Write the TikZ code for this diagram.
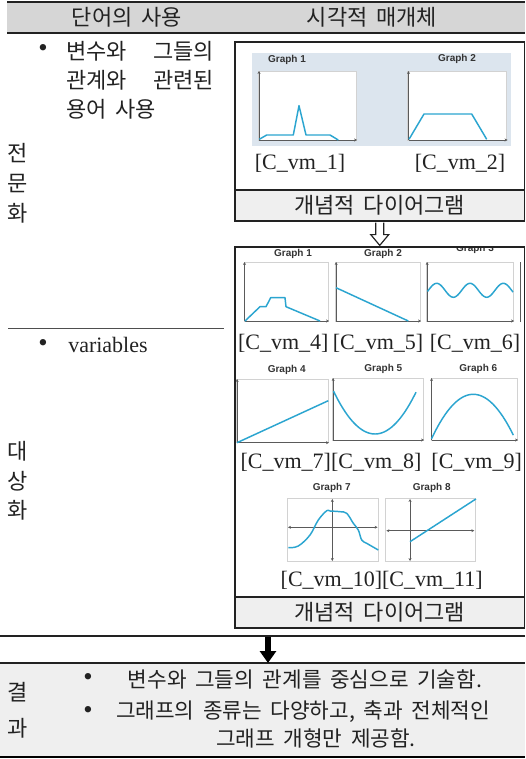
\documentclass[tikz,border=0pt]{standalone}
\usepackage{fontspec}
\setmainfont{Liberation Serif}
\newfontfamily\krfont[WordSpace=1.8]{Noto Sans CJK KR}
\newfontfamily\gfont{Liberation Sans}
\usetikzlibrary{arrows.meta,positioning,calc,fit}
\definecolor{ink}{HTML}{222222}
\definecolor{headgray}{HTML}{D6D6D6}
\definecolor{bandgray}{HTML}{EFEFEF}
\definecolor{plotbg}{HTML}{DCE5EE}
\definecolor{cyanline}{HTML}{2BA5D0}
\definecolor{framegray}{HTML}{D2D2D2}
\definecolor{axisgray}{HTML}{5A5A5A}

\begin{document}
\begin{tikzpicture}[x=0.75pt,y=-0.75pt,
  kr/.style={font=\krfont\fontsize{16.5}{22.5}\selectfont,text=ink,inner sep=0pt},
  res/.style={kr,font=\krfont\fontsize{16}{20}\selectfont},
  vm/.style={font=\fontsize{16.5}{18}\selectfont,text=ink,inner sep=0pt},
  bul/.style={font=\fontsize{20}{20}\selectfont,text=ink,inner sep=0pt},
  gtitle/.style={font=\gfont\bfseries\fontsize{7.5}{8}\selectfont,text=black!80,inner sep=0pt},
  plotframe/.style={draw=framegray,fill=white,line width=0.5pt},
  plotaxis/.style={draw=axisgray,line width=0.6pt,-{Stealth[length=2.2pt,width=2.2pt]}},
  plotaxisb/.style={plotaxis,{Stealth[length=2.2pt,width=2.2pt]}-{Stealth[length=2.2pt,width=2.2pt]}},
  plotline/.style={draw=cyanline,line width=1.1pt,line join=round},
  panel/.style={draw=ink,line width=0.9pt,inner sep=0pt},
  band/.style={panel,fill=bandgray}]
  \useasboundingbox (0,0) rectangle (525,759);

  \fill[headgray] (7,2) rectangle (525,33);
  \draw[ink,line width=1.5pt] (7,2) -- (525,2);
  \draw[ink,line width=0.9pt] (7,33) -- (525,33);
  \node[kr] (hword) at (127,17) {단어의 사용};
  \node[kr] (hmedia) at (372,17) {시각적 매개체};

  \node[bul] (b1) at (43,51) {•};
  \node[kr,anchor=west] (w1) at (66,51) {변수와};
  \node[kr,anchor=east] (w2) at (214,51) {그들의};
  \node[kr,anchor=west] (w3) at (66,80) {관계와};
  \node[kr,anchor=east] (w4) at (214,80) {관련된};
  \node[kr,anchor=west] (w5) at (66,109) {용어 사용};
  \node[kr,align=center] (jmh) at (18,183) {전\\문\\화};
  \draw[ink!80,line width=0.7pt] (8,328) -- (224,328);
  \node[bul] (b2) at (43,345) {•};
  \node[vm,anchor=west] (var) at (68,345) {variables};
  \node[kr,align=center,font=\krfont\fontsize{16.5}{22}\selectfont] (dsh) at (18,481) {대\\상\\화};

  \node[panel,fit={(235,42) (524.5,221)}] (box1) {};
  \node[band,fit={(235,190) (524.5,221)}] (band1) {};
  \node[kr] (bt1) at (band1.center) {개념적 다이어그램};
  \fill[plotbg] (252,53) rectangle (511,146);
  \node[gtitle] (ga) at (287,60) {Graph 1};
  \draw[plotframe] (258,71) rectangle (356,140);
  \draw[plotaxis] (259,140) -- (259,71);
  \draw[plotaxis] (259,140) -- (357,140);
  \draw[plotline] (259.3,139.3) -- (266.7,135) -- (293.3,135) -- (299,105.7) -- (306,135) -- (330,135) -- (338.3,140);
  \node[gtitle] (gb) at (457,59) {Graph 2};
  \draw[plotframe] (407.7,71) rectangle (506.7,140);
  \draw[plotaxis] (408.5,140) -- (408.5,71);
  \draw[plotaxis] (408.5,140) -- (507.5,140);
  \draw[plotline] (409,139.3) -- (424,114) -- (471.7,114) -- (486.7,139.3);
  \node[vm] (vm1) at (300,163) {[C\_vm\_1]};
  \node[vm] (vm2) at (460,163) {[C\_vm\_2]};

  \node[panel,fit={(235,247) (524.5,628)}] (box2) {};
  \draw[ink,line width=0.9pt,fill=white] ($(box1.south)+(-4,1)$) -- ($(box1.south)+(-4,13)$) -- ($(box1.south)+(-9,13)$) -- ($(box2.north)+(0,-1)$) -- ($(box1.south)+(9,13)$) -- ($(box1.south)+(4,13)$) -- ($(box1.south)+(4,1)$);
  \begin{scope}
    \clip (236,248) rectangle (524,596);
    \node[gtitle] (gc) at (293,254) {Graph 1};
    \draw[plotframe] (244,262) rectangle (328,321);
    \draw[plotaxis] (244.5,321) -- (244.5,262);
    \draw[plotaxis] (244.5,321) -- (329,321);
    \draw[plotline] (245,321) -- (260,306.7) -- (266,306.7) -- (270.7,297.7) -- (285,297.7) -- (286,306.7) -- (320,321);
    \node[gtitle] (gd) at (383,254) {Graph 2};
    \draw[plotframe] (335.7,262) rectangle (420,321);
    \draw[plotaxis] (336.2,321) -- (336.2,262);
    \draw[plotaxis] (336.2,321) -- (421,321);
    \draw[plotline] (336,287.7) -- (408.3,321);
    \node[gtitle] (ge) at (475,249) {Graph 3};
    \draw[plotframe] (426.7,262) rectangle (513.3,321);
    \draw[plotaxis] (427.2,321) -- (427.2,262);
    \draw[plotaxis] (427.2,321) -- (514,321);
    \draw[plotline] plot[domain=427.5:513,samples=60] (\x,{290.3-7*cos((\x-436.7)*10.81)});
    \draw[axisgray,line width=0.7pt] (520,322) -- (520,262);
    \node[vm] (vm4) at (283.3,343) {[C\_vm\_4]};
    \node[vm] (vm5) at (378,343) {[C\_vm\_5]};
    \node[vm] (vm6) at (475,343) {[C\_vm\_6]};

    \node[gtitle] (gf) at (286.7,370) {Graph 4};
    \draw[plotframe] (236.7,379) rectangle (328.3,442.7);
    \draw[plotaxis] (237.2,442.7) -- (237.2,379);
    \draw[plotaxis] (237.2,442.7) -- (329,442.7);
    \draw[plotline] (237,442.7) -- (328.3,400.7);
    \node[gtitle] (gg) at (383.3,369) {Graph 5};
    \draw[plotframe] (332.7,378) rectangle (423.3,440);
    \draw[plotaxis] (333.2,440) -- (333.2,378);
    \draw[plotaxis] (333.2,440) -- (424,440);
    \draw[plotline] plot[domain=333.5:416,samples=50] (\x,{434-0.0249*(\x-375)*(\x-375)});
    \node[gtitle] (gh) at (478.3,369) {Graph 6};
    \draw[plotframe] (431,378) rectangle (517.3,440);
    \draw[plotaxis] (431.5,440) -- (431.5,378);
    \draw[plotaxis] (431.5,440) -- (518,440);
    \draw[plotline] plot[domain=431.5:513.3,samples=50] (\x,{394.3+0.0255*(\x-473.3)*(\x-473.3)});
    \node[vm] (vm78) at (331,462) {[C\_vm\_7][C\_vm\_8]};
    \node[vm] (vm9) at (476.7,462) {[C\_vm\_9]};

    \node[gtitle] (gi) at (331.7,488.3) {Graph 7};
    \draw[plotframe] (287.3,498.3) rectangle (378.3,561.7);
    \draw[plotaxisb] (332.3,561) -- (332.3,499);
    \draw[plotaxisb] (288,527.3) -- (377.6,527.3);
    \draw[plotline] plot[smooth,tension=0.6] coordinates {(288.3,547.7) (298.3,546) (310,535) (318.3,520) (326.7,510.7) (330,511) (340,511.7) (346.7,513.3) (353.3,523.3) (358.3,530) (361.7,540) (366.7,543.3) (378.3,550)};
    \node[gtitle] (gj) at (431.7,488) {Graph 8};
    \draw[plotframe] (385.7,498.3) rectangle (475,561.7);
    \draw[plotaxisb] (410,561) -- (410,499);
    \draw[plotaxisb] (386.4,530.7) -- (474.3,530.7);
    \draw[plotline] (410,541.7) -- (476,498.9);
    \node[vm] (vm1011) at (381.7,580) {[C\_vm\_10][C\_vm\_11]};
  \end{scope}
  \node[band,fit={(235,597) (524.5,628)}] (band2) {};
  \node[kr] (bt2) at (band2.center) {개념적 다이어그램};

  \draw[ink,line width=1.2pt] (0,636) -- (525,636);
  \coordinate (atop) at (268,637);
  \coordinate (abot) at (268,663);
  \fill[bandgray] (0,663) rectangle (525,757);
  \draw[ink,line width=0.9pt] (0,663) -- (525,663);
  \draw[black,line width=2pt] (0,757) -- (525,757);
  \draw[black,line width=4.5pt,-{Triangle[width=12pt,length=9pt]}] (atop) -- (abot);
  \node[kr,align=center,font=\krfont\fontsize{16.5}{27}\selectfont] (gg2) at (18,710) {결\\과};
  \node[bul] (b3) at (88,679) {•};
  \node[res] (r1) at (305,679) {변수와 그들의 관계를 중심으로 기술함.};
  \node[bul] (b4) at (88,712) {•};
  \node[res] (r2) at (303,712) {그래프의 종류는 다양하고, 축과 전체적인};
  \node[res] (r3) at (316,738) {그래프 개형만 제공함.};
\end{tikzpicture}
\end{document}
